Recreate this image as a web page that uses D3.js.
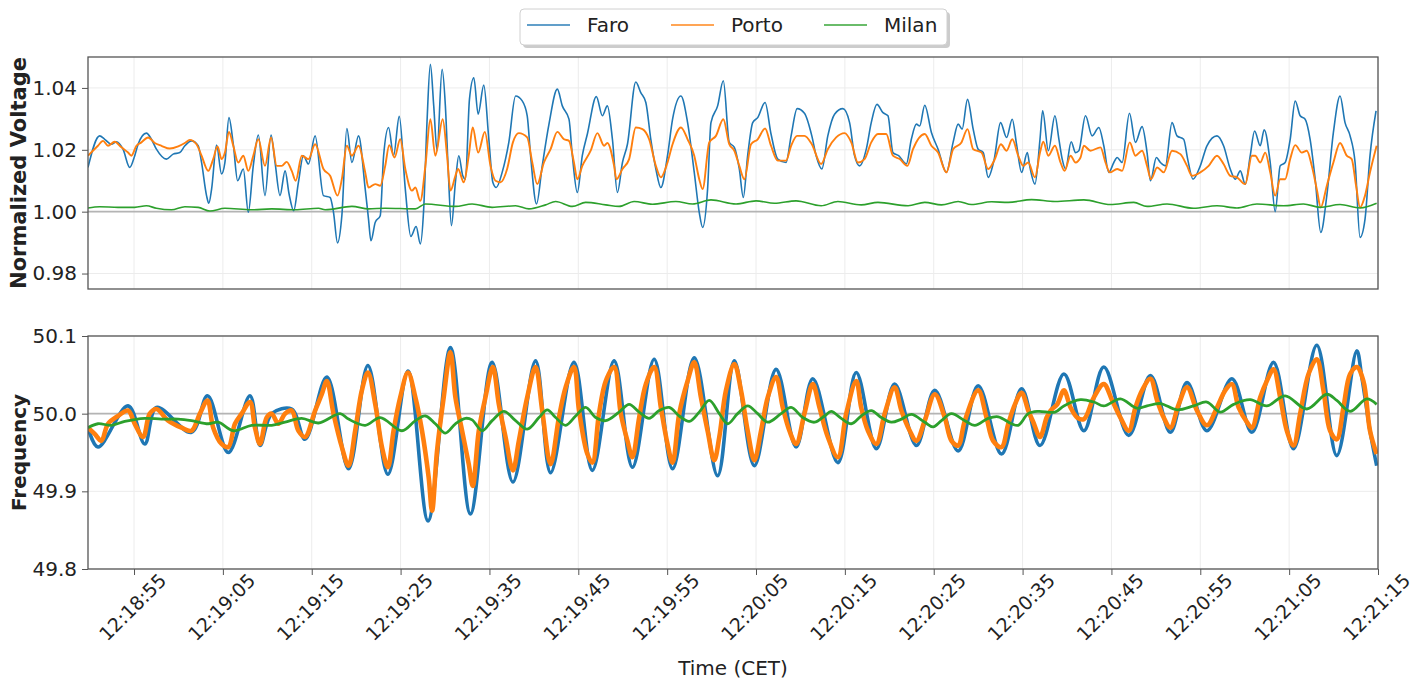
<!DOCTYPE html>
<html>
<head>
<meta charset="utf-8">
<script src="https://cdn.jsdelivr.net/npm/d3@7"></script>
<style>
body { margin: 0; background: #fff; }
svg text { font-family: "DejaVu Sans", sans-serif; fill: #222; }
</style>
</head>
<body>
<svg id="chart" width="1416" height="681"></svg>
<script>
// Time axis: seconds are counted from 12:18:55
var startTime = "12:18:55";
var timeTicks = ["12:18:55", "12:19:05", "12:19:15", "12:19:25", "12:19:35", "12:19:45", "12:19:55",
    "12:20:05", "12:20:15", "12:20:25", "12:20:35", "12:20:45", "12:20:55", "12:21:05", "12:21:15"];
var timeRange = [-5.18, 140];

var voltageTicks = [0.98, 1.00, 1.02, 1.04];
var freqTicks = [49.8, 49.9, 50.0, 50.1];

// Normalized voltage, [seconds, value]
var faroVoltage = [[-5.18,1.0143],[-3.87,1.0245],[-3.30,1.0234],[-2.55,1.0218],[-1.99,1.0226],[-1.24,1.0202],[-0.48,1.0143],[0.08,1.0181],[0.46,1.0218],[1.39,1.0254],[1.96,1.0234],[2.52,1.0202],[3.65,1.0170],[4.40,1.0186],[5.15,1.0191],[5.72,1.0213],[6.47,1.0229],[7.22,1.0213],[7.60,1.0159],[8.16,1.0052],[8.42,1.0027],[8.73,1.0073],[9.29,1.0215],[9.85,1.0122],[10.23,1.0159],[10.68,1.0304],[11.17,1.0218],[11.66,1.0100],[12.30,1.0138],[12.86,0.9998],[13.42,1.0148],[13.99,1.0248],[14.74,1.0052],[15.42,1.0248],[15.87,1.0159],[16.43,1.0052],[17.00,1.0132],[17.45,1.0057],[17.97,1.0003],[18.50,1.0095],[19.06,1.0181],[19.63,1.0154],[20.38,1.0245],[21.32,1.0052],[22.07,1.0046],[22.45,0.9998],[22.90,0.9899],[23.39,0.9987],[23.95,1.0269],[24.52,1.0159],[25.27,1.0245],[26.02,1.0073],[26.39,0.9976],[26.66,0.9906],[27.15,0.9966],[27.71,0.9987],[28.09,1.0181],[28.65,1.0272],[29.21,1.0181],[29.85,1.0308],[30.53,1.0073],[31.15,0.9920],[31.75,0.9952],[32.22,0.9896],[32.60,1.0009],[32.97,1.0288],[33.35,1.0476],[33.73,1.0342],[34.10,1.0197],[34.67,1.0460],[35.04,1.0342],[35.34,1.0148],[35.72,0.9955],[36.17,1.0095],[36.55,1.0181],[37.00,1.0116],[37.30,1.0105],[37.75,1.0363],[38.24,1.0433],[38.73,1.0315],[39.36,1.0409],[39.93,1.0234],[40.38,1.0095],[40.76,1.0078],[41.43,1.0127],[42.18,1.0224],[42.94,1.0374],[43.69,1.0358],[44.25,1.0310],[44.63,1.0181],[45.30,1.0025],[45.94,1.0148],[46.70,1.0283],[47.64,1.0396],[48.20,1.0342],[48.95,1.0299],[49.33,1.0181],[49.89,1.0062],[50.45,1.0181],[51.02,1.0251],[52.03,1.0372],[52.71,1.0310],[53.27,1.0342],[53.84,1.0234],[54.40,1.0062],[54.97,1.0159],[55.53,1.0218],[56.47,1.0419],[57.03,1.0385],[57.60,1.0353],[58.16,1.0234],[58.73,1.0138],[59.29,1.0078],[60.04,1.0181],[60.61,1.0299],[61.55,1.0374],[62.30,1.0288],[63.05,1.0127],[63.61,0.9998],[63.99,0.9949],[64.55,1.0073],[64.93,1.0288],[65.68,1.0342],[66.32,1.0423],[66.99,1.0224],[67.56,1.0208],[68.12,1.0138],[68.57,1.0046],[69.06,1.0181],[69.63,1.0288],[70.19,1.0304],[71.02,1.0353],[71.69,1.0251],[72.45,1.0170],[73.38,1.0159],[73.95,1.0245],[74.63,1.0333],[75.45,1.0318],[76.28,1.0245],[76.77,1.0181],[77.41,1.0138],[78.08,1.0245],[78.84,1.0315],[79.78,1.0333],[80.53,1.0288],[81.09,1.0181],[81.66,1.0148],[82.41,1.0202],[82.97,1.0288],[83.61,1.0347],[84.29,1.0320],[84.85,1.0310],[85.41,1.0191],[86.05,1.0181],[86.92,1.0154],[87.48,1.0234],[88.05,1.0283],[88.42,1.0277],[88.99,1.0344],[89.74,1.0256],[90.49,1.0202],[91.43,1.0127],[92.18,1.0224],[92.75,1.0283],[93.20,1.0267],[93.80,1.0363],[94.44,1.0267],[95.00,1.0202],[95.57,1.0191],[96.13,1.0111],[96.81,1.0170],[97.52,1.0288],[98.20,1.0240],[98.84,1.0299],[99.32,1.0218],[99.89,1.0127],[100.53,1.0191],[100.83,1.0143],[101.39,1.0089],[101.96,1.0234],[102.26,1.0326],[102.90,1.0197],[103.64,1.0310],[104.09,1.0234],[104.46,1.0170],[104.84,1.0138],[105.47,1.0226],[105.96,1.0191],[106.33,1.0197],[107.08,1.0310],[107.83,1.0245],[108.58,1.0272],[109.14,1.0213],[109.70,1.0127],[110.27,1.0159],[110.64,1.0175],[111.20,1.0159],[112.03,1.0318],[112.70,1.0224],[113.45,1.0275],[114.01,1.0191],[114.39,1.0100],[115.06,1.0175],[115.51,1.0159],[116.07,1.0148],[116.82,1.0288],[117.38,1.0245],[118.13,1.0234],[118.58,1.0170],[119.18,1.0105],[120.00,1.0148],[120.75,1.0213],[121.88,1.0245],[122.62,1.0213],[123.37,1.0138],[123.94,1.0105],[124.50,1.0132],[125.06,1.0089],[125.62,1.0181],[126.11,1.0261],[126.75,1.0213],[127.19,1.0265],[127.87,1.0159],[128.43,1.0000],[128.99,1.0148],[129.55,1.0159],[130.12,1.0234],[130.68,1.0358],[131.24,1.0310],[131.80,1.0299],[132.36,1.0234],[132.93,1.0105],[133.56,0.9933],[134.24,1.0052],[134.98,1.0256],[135.73,1.0374],[136.29,1.0288],[136.86,1.0245],[137.42,1.0159],[137.98,0.9917],[138.54,0.9976],[139.10,1.0181],[139.78,1.0326]];

var portoVoltage = [[-5.18,1.0181],[-4.06,1.0213],[-3.49,1.0229],[-2.93,1.0213],[-2.18,1.0226],[-1.42,1.0208],[-0.67,1.0191],[-0.30,1.0181],[0.27,1.0213],[0.83,1.0224],[1.58,1.0240],[2.33,1.0222],[3.09,1.0213],[4.03,1.0204],[4.97,1.0211],[5.72,1.0222],[6.28,1.0232],[7.03,1.0218],[7.60,1.0181],[8.35,1.0132],[8.91,1.0170],[9.40,1.0211],[9.85,1.0170],[10.23,1.0191],[10.68,1.0258],[11.17,1.0213],[11.73,1.0159],[12.30,1.0181],[12.86,1.0132],[13.42,1.0181],[13.99,1.0234],[14.74,1.0148],[15.42,1.0240],[16.06,1.0148],[16.62,1.0148],[17.18,1.0161],[17.75,1.0132],[18.20,1.0100],[18.88,1.0181],[19.63,1.0170],[20.38,1.0218],[21.32,1.0138],[22.07,1.0116],[22.90,1.0052],[23.39,1.0105],[23.95,1.0213],[24.52,1.0181],[25.27,1.0213],[26.02,1.0127],[26.39,1.0078],[27.15,1.0089],[27.71,1.0084],[28.27,1.0148],[28.72,1.0215],[29.32,1.0175],[29.96,1.0234],[30.53,1.0138],[31.28,1.0068],[31.66,1.0078],[32.22,1.0035],[32.79,1.0148],[33.35,1.0299],[33.91,1.0181],[34.74,1.0299],[35.23,1.0181],[35.61,1.0068],[36.17,1.0116],[36.47,1.0138],[37.11,1.0095],[37.67,1.0181],[38.12,1.0272],[38.73,1.0191],[39.48,1.0258],[40.12,1.0148],[40.68,1.0100],[41.24,1.0095],[41.99,1.0138],[42.64,1.0224],[43.31,1.0254],[44.25,1.0240],[44.82,1.0159],[45.38,1.0089],[46.13,1.0159],[46.88,1.0202],[47.64,1.0258],[48.39,1.0234],[48.95,1.0229],[49.51,1.0159],[49.89,1.0105],[50.45,1.0148],[51.39,1.0197],[52.15,1.0254],[52.90,1.0213],[53.27,1.0222],[54.03,1.0148],[54.29,1.0105],[54.97,1.0138],[55.72,1.0170],[56.47,1.0272],[57.22,1.0267],[57.97,1.0234],[58.73,1.0148],[59.29,1.0111],[60.04,1.0159],[60.61,1.0218],[61.55,1.0272],[62.30,1.0234],[63.05,1.0181],[63.61,1.0105],[63.99,1.0073],[64.74,1.0224],[65.49,1.0245],[66.32,1.0299],[66.99,1.0218],[67.56,1.0197],[68.12,1.0148],[68.69,1.0105],[69.44,1.0218],[70.19,1.0234],[71.02,1.0269],[71.69,1.0213],[72.45,1.0165],[73.38,1.0165],[73.95,1.0213],[74.63,1.0245],[75.45,1.0245],[76.28,1.0218],[77.33,1.0154],[78.08,1.0202],[79.02,1.0240],[79.96,1.0254],[80.72,1.0224],[81.47,1.0159],[82.22,1.0170],[82.97,1.0224],[83.72,1.0251],[84.66,1.0251],[85.41,1.0181],[86.17,1.0170],[87.03,1.0148],[87.67,1.0202],[88.99,1.0251],[89.74,1.0213],[90.49,1.0191],[91.43,1.0127],[92.18,1.0202],[93.12,1.0224],[93.80,1.0267],[94.44,1.0202],[95.38,1.0191],[96.13,1.0138],[96.88,1.0170],[97.56,1.0218],[98.20,1.0197],[98.84,1.0234],[99.51,1.0181],[100.08,1.0148],[100.64,1.0159],[101.39,1.0111],[101.96,1.0191],[102.33,1.0226],[102.90,1.0181],[103.64,1.0213],[104.27,1.0159],[104.72,1.0132],[105.40,1.0181],[105.96,1.0159],[106.52,1.0175],[106.90,1.0213],[107.64,1.0197],[108.77,1.0208],[109.33,1.0159],[109.82,1.0127],[110.64,1.0138],[111.20,1.0132],[112.06,1.0224],[112.70,1.0181],[113.45,1.0197],[114.01,1.0148],[114.46,1.0105],[115.14,1.0143],[115.88,1.0127],[116.82,1.0197],[117.76,1.0186],[118.51,1.0148],[119.07,1.0116],[120.00,1.0127],[120.94,1.0148],[121.88,1.0181],[122.62,1.0154],[123.37,1.0116],[124.12,1.0111],[125.06,1.0089],[125.81,1.0181],[126.18,1.0181],[126.75,1.0159],[127.31,1.0191],[127.87,1.0127],[128.43,1.0052],[128.99,1.0105],[129.55,1.0105],[130.12,1.0170],[130.68,1.0215],[131.43,1.0191],[131.99,1.0197],[132.55,1.0148],[133.11,1.0073],[133.56,1.0014],[134.24,1.0084],[134.98,1.0159],[135.73,1.0222],[136.48,1.0181],[137.04,1.0170],[137.53,1.0084],[137.98,1.0014],[138.54,1.0052],[139.10,1.0127],[139.85,1.0213]];

var milanVoltage = [[-5.18,1.0012],[-3.87,1.0016],[-1.80,1.0014],[0.08,1.0014],[1.39,1.0019],[2.52,1.0011],[4.21,1.0006],[5.72,1.0016],[7.22,1.0014],[8.54,1.0002],[10.23,1.0011],[13.24,1.0006],[15.49,1.0009],[18.12,1.0006],[20.76,1.0011],[21.51,1.0006],[24.52,1.0017],[26.39,1.0009],[28.27,1.0011],[31.66,1.0009],[32.79,1.0025],[36.17,1.0017],[38.05,1.0025],[40.30,1.0014],[42.94,1.0019],[44.44,1.0009],[46.32,1.0022],[47.45,1.0033],[49.33,1.0017],[50.83,1.0030],[53.09,1.0022],[54.59,1.0017],[56.28,1.0033],[58.35,1.0024],[60.98,1.0033],[62.86,1.0025],[64.93,1.0038],[67.75,1.0025],[70.00,1.0035],[72.07,1.0027],[74.51,1.0035],[77.33,1.0019],[79.21,1.0033],[81.84,1.0022],[83.72,1.0030],[87.11,1.0019],[88.99,1.0030],[90.87,1.0022],[92.75,1.0033],[94.25,1.0023],[96.51,1.0032],[98.39,1.0030],[101.02,1.0039],[103.65,1.0033],[106.90,1.0038],[109.89,1.0023],[112.51,1.0030],[114.01,1.0017],[116.26,1.0025],[119.25,1.0011],[121.88,1.0019],[124.12,1.0012],[126.37,1.0025],[129.37,1.0019],[131.61,1.0025],[133.49,1.0014],[135.73,1.0023],[137.98,1.0012],[139.85,1.0027]];

// Frequency in Hz, [seconds, value]
var faroFreq = [[-5.18,49.982],[-4.06,49.957],[-0.67,50.010],[1.21,49.961],[2.52,50.008],[6.47,49.976],[8.27,50.023],[10.61,49.950],[13.05,50.023],[14.18,49.959],[15.49,50.000],[17.75,50.006],[19.25,49.967],[21.70,50.047],[24.14,49.929],[26.32,50.062],[28.57,49.922],[30.83,50.055],[33.09,49.862],[35.61,50.085],[37.86,49.871],[40.30,50.066],[42.64,49.912],[45.19,50.068],[46.88,49.924],[49.51,50.066],[51.58,49.927],[54.03,50.068],[56.09,49.931],[58.54,50.070],[60.61,49.929],[63.05,50.072],[65.68,49.920],[67.56,50.068],[69.81,49.933],[72.26,50.057],[74.51,49.957],[76.39,50.045],[79.21,49.937],[81.28,50.053],[83.54,49.955],[85.60,50.038],[88.05,49.959],[90.12,50.030],[92.75,49.952],[95.00,50.036],[97.63,49.948],[99.89,50.032],[101.96,49.959],[104.65,50.051],[106.90,49.978],[109.14,50.060],[111.95,49.972],[114.39,50.049],[116.63,49.976],[118.51,50.040],[120.75,49.978],[123.56,50.045],[125.81,49.976],[128.24,50.066],[130.49,49.955],[133.11,50.088],[135.36,49.946],[137.61,50.081],[138.18,50.047],[139.10,49.978],[139.85,49.933]];

var portoFreq = [[-5.18,49.982],[-4.43,49.974],[-3.68,49.965],[-2.93,49.987],[-1.80,49.997],[-0.67,50.004],[0.08,49.987],[1.02,49.970],[1.77,50.000],[2.52,50.006],[3.84,49.991],[5.34,49.982],[6.47,49.978],[7.41,50.000],[8.27,50.017],[8.91,49.982],[9.85,49.961],[10.61,49.957],[11.36,49.987],[12.11,50.000],[13.05,50.015],[13.61,49.982],[14.18,49.961],[14.93,49.995],[15.49,50.000],[16.24,49.987],[16.99,50.000],[17.75,50.004],[18.50,49.978],[19.25,49.970],[20.38,50.004],[21.13,50.025],[21.70,50.042],[22.45,50.000],[23.39,49.957],[24.14,49.933],[24.89,49.978],[25.64,50.030],[26.32,50.053],[27.15,50.012],[27.90,49.957],[28.57,49.931],[29.21,49.978],[29.96,50.021],[30.83,50.053],[31.66,50.021],[32.41,49.978],[33.16,49.918],[33.54,49.875],[34.10,49.952],[34.85,50.021],[35.61,50.079],[36.17,50.021],[36.92,49.978],[37.67,49.935],[38.12,49.907],[38.80,49.978],[39.55,50.021],[40.38,50.060],[41.06,50.012],[41.81,49.970],[42.64,49.927],[43.31,49.965],[44.25,50.021],[45.19,50.060],[45.94,50.004],[46.88,49.935],[47.82,49.995],[48.58,50.034],[49.51,50.060],[50.08,50.004],[51.02,49.948],[51.58,49.937],[52.33,50.000],[53.09,50.042],[54.03,50.060],[54.78,50.000],[55.53,49.965],[56.09,49.944],[56.85,49.995],[57.60,50.038],[58.54,50.060],[59.29,50.008],[60.04,49.961],[60.61,49.937],[61.36,50.000],[62.30,50.042],[63.05,50.066],[63.80,50.021],[64.55,49.978],[65.30,49.940],[65.87,49.970],[66.62,50.030],[67.56,50.064],[68.31,50.030],[69.06,49.978],[69.81,49.940],[70.57,49.978],[71.32,50.021],[72.26,50.047],[73.01,50.008],[73.76,49.978],[74.51,49.961],[75.45,50.000],[76.39,50.038],[77.14,50.008],[78.08,49.970],[79.21,49.944],[80.15,50.000],[81.28,50.042],[81.84,50.008],[82.60,49.978],[83.54,49.961],[84.48,50.000],[85.60,50.034],[86.36,50.004],[87.30,49.978],[88.05,49.965],[88.99,49.991],[90.12,50.025],[91.24,49.995],[92.00,49.965],[92.75,49.959],[93.50,49.991],[95.00,50.030],[95.94,49.995],[96.69,49.965],[97.63,49.957],[98.39,49.987],[99.14,50.012],[99.89,50.027],[100.64,50.004],[101.21,49.989],[101.96,49.970],[102.71,49.995],[103.15,50.004],[103.90,50.012],[104.65,50.030],[105.40,50.008],[106.15,49.995],[106.90,49.993],[108.02,50.021],[109.14,50.038],[110.08,50.017],[111.01,49.995],[111.95,49.978],[112.70,50.008],[113.45,50.030],[114.39,50.045],[115.14,50.017],[115.88,49.995],[116.63,49.982],[117.57,50.012],[118.51,50.034],[119.63,50.004],[120.75,49.985],[121.88,50.008],[122.81,50.030],[123.56,50.038],[124.31,50.008],[125.25,49.989],[125.81,49.982],[126.75,50.021],[127.49,50.042],[128.24,50.057],[128.99,50.021],[129.74,49.978],[130.49,49.959],[131.24,50.000],[132.18,50.051],[133.11,50.070],[133.86,50.030],[134.61,49.978],[135.36,49.967],[136.11,50.008],[136.86,50.051],[137.61,50.060],[138.36,50.042],[139.10,49.978],[139.85,49.948]];

var milanFreq = [[-5.18,49.982],[-4.06,49.987],[-2.55,49.985],[-1.05,49.990],[1.21,49.994],[3.09,49.993],[4.97,49.993],[6.47,49.991],[8.35,49.987],[9.47,49.989],[11.17,49.978],[13.24,49.985],[15.49,49.985],[16.99,49.989],[18.88,49.994],[20.76,49.988],[23.20,50.000],[24.14,49.993],[26.02,49.985],[27.71,49.995],[30.15,49.978],[31.66,49.991],[32.79,49.997],[33.91,49.987],[35.04,49.975],[36.17,49.987],[37.30,49.994],[38.05,49.992],[39.18,49.978],[40.30,49.991],[41.62,50.003],[42.94,49.991],[44.25,49.980],[45.57,49.995],[46.51,50.005],[47.45,49.995],[48.58,49.985],[49.70,49.997],[50.83,50.008],[51.96,49.995],[53.09,49.991],[54.59,50.002],[55.72,50.012],[56.85,50.002],[57.97,49.994],[59.10,50.004],[60.23,50.008],[61.36,49.997],[62.49,49.990],[63.61,50.002],[64.74,50.017],[65.87,50.000],[66.81,49.987],[67.93,50.000],[69.06,50.010],[70.19,50.000],[71.32,49.989],[72.82,50.000],[73.95,50.008],[75.26,49.995],[76.58,49.989],[77.71,49.997],[78.46,50.003],[79.59,49.994],[80.72,49.987],[81.84,49.997],[82.97,50.004],[84.10,49.995],[85.23,49.989],[86.36,49.993],[87.48,49.999],[88.99,49.989],[89.93,49.983],[90.87,49.991],[91.99,50.000],[93.50,49.991],[94.63,49.985],[96.13,49.994],[97.26,49.996],[98.76,49.987],[99.51,49.985],[100.64,50.000],[101.77,50.003],[103.65,50.002],[104.65,50.010],[106.52,50.018],[108.02,50.015],[109.14,50.010],[111.01,50.019],[112.89,50.007],[114.01,50.010],[115.51,50.013],[117.38,50.005],[119.25,50.010],[120.75,50.015],[122.25,50.002],[123.75,50.012],[125.62,50.018],[127.49,50.010],[129.55,50.023],[131.99,50.006],[134.24,50.025],[135.36,50.017],[136.86,50.003],[138.73,50.019],[139.85,50.012]];

var seriesNames = ["Faro", "Porto", "Milan"];
var seriesColors = ["#1f77b4", "#ff7f0e", "#2ca02c"];

var svg = d3.select("#chart");
var parseTime = d3.timeParse("%H:%M:%S");
var base = parseTime(startTime);
function toDate(s) {
    return new Date(base.getTime() + s * 1000);
}

var plotLeft = 88, plotRight = 1378;
var x = d3.scaleTime()
    .domain(timeRange.map(toDate))
    .range([plotLeft, plotRight]);
var tickDates = timeTicks.map(parseTime);

var panels = [
    { top: 57, bottom: 289, domain: [0.975, 1.05], ticks: voltageTicks, fmt: d3.format(".2f"), ref: 1.0,
      label: "Normalized Voltage", labelSize: 21, series: [faroVoltage, portoVoltage, milanVoltage], widths: [1.6, 1.9, 1.6] },
    { top: 336, bottom: 569, domain: [49.8, 50.1], ticks: freqTicks, fmt: d3.format(".1f"), ref: 50.0,
      label: "Frequency", labelSize: 20, series: [faroFreq, portoFreq, milanFreq], widths: [3.6, 4.6, 2.8] }
];

panels.forEach(function (p, pi) {
    var y = d3.scaleLinear().domain(p.domain).range([p.bottom, p.top]);
    var g = svg.append("g");

    g.append("clipPath").attr("id", "clip" + pi)
        .append("rect")
        .attr("x", plotLeft).attr("y", p.top)
        .attr("width", plotRight - plotLeft).attr("height", p.bottom - p.top);

    // grid
    g.selectAll(".vgrid").data(tickDates).enter().append("line")
        .attr("x1", function (d) { return x(d); })
        .attr("x2", function (d) { return x(d); })
        .attr("y1", p.top).attr("y2", p.bottom)
        .attr("stroke", "#ececec").attr("stroke-width", 1);
    g.selectAll(".hgrid").data(p.ticks).enter().append("line")
        .attr("x1", plotLeft).attr("x2", plotRight)
        .attr("y1", function (d) { return y(d); })
        .attr("y2", function (d) { return y(d); })
        .attr("stroke", "#ececec").attr("stroke-width", 1);

    // reference line
    g.append("line")
        .attr("x1", plotLeft).attr("x2", plotRight)
        .attr("y1", y(p.ref)).attr("y2", y(p.ref))
        .attr("stroke", "#b4b4b4").attr("stroke-width", 1.6);

    var line = d3.line()
        .x(function (d) { return x(toDate(d[0])); })
        .y(function (d) { return y(d[1]); })
        .curve(pi === 0 ? d3.curveMonotoneX : d3.curveCatmullRom.alpha(0.5));

    p.series.forEach(function (data, i) {
        g.append("path")
            .datum(data)
            .attr("clip-path", "url(#clip" + pi + ")")
            .attr("fill", "none")
            .attr("stroke", seriesColors[i])
            .attr("stroke-width", p.widths[i])
            .attr("stroke-linejoin", "round")
            .attr("d", line);
    });

    // frame
    g.append("rect")
        .attr("x", plotLeft).attr("y", p.top)
        .attr("width", plotRight - plotLeft).attr("height", p.bottom - p.top)
        .attr("fill", "none").attr("stroke", "#555").attr("stroke-width", 1.3);

    // y axis
    var yAxis = g.append("g")
        .attr("transform", "translate(" + plotLeft + ",0)")
        .call(d3.axisLeft(y).tickValues(p.ticks).tickFormat(p.fmt).tickSize(6).tickPadding(5));
    yAxis.select(".domain").remove();
    yAxis.selectAll("line").attr("stroke", "#555");
    yAxis.selectAll("text").attr("font-size", "20px").attr("font-family", "DejaVu Sans").attr("fill", "#222");

    g.append("text")
        .attr("transform", "translate(19," + ((p.top + p.bottom) / 2) + ") rotate(-90)")
        .attr("text-anchor", "middle")
        .attr("dominant-baseline", "central")
        .attr("font-size", p.labelSize + "px")
        .attr("font-weight", "bold")
        .text(p.label);

    // x axis only under the lower panel
    if (pi === 1) {
        var xAxis = g.append("g")
            .attr("transform", "translate(0," + p.bottom + ")")
            .call(d3.axisBottom(x).tickValues(tickDates).tickFormat(d3.timeFormat("%H:%M:%S")).tickSize(6));
        xAxis.select(".domain").remove();
        xAxis.selectAll("line").attr("stroke", "#555");
        xAxis.selectAll("text")
            .attr("y", 0).attr("dy", null)
            .attr("text-anchor", "middle")
            .attr("dominant-baseline", "central")
            .attr("transform", "translate(-2,38) rotate(-45)")
            .attr("font-size", "19px").attr("font-family", "DejaVu Sans").attr("fill", "#222");

        g.append("text")
            .attr("x", (plotLeft + plotRight) / 2)
            .attr("y", 675)
            .attr("text-anchor", "middle")
            .attr("font-size", "20px")
            .text("Time (CET)");
    }
});

// legend
var legend = svg.append("g").attr("transform", "translate(520,9)");
legend.append("rect")
    .attr("x", 3).attr("y", 3).attr("width", 427).attr("height", 36).attr("rx", 4)
    .attr("fill", "#999").attr("opacity", 0.5);
legend.append("rect")
    .attr("width", 427).attr("height", 36).attr("rx", 4)
    .attr("fill", "#fff").attr("stroke", "#d0d0d0");
var legendX = [7, 151, 304];
seriesNames.forEach(function (name, i) {
    legend.append("line")
        .attr("x1", legendX[i]).attr("x2", legendX[i] + 43)
        .attr("y1", 16).attr("y2", 16)
        .attr("stroke", seriesColors[i]).attr("stroke-width", 2).attr("opacity", 0.7);
    legend.append("text")
        .attr("x", legendX[i] + 60).attr("y", 16)
        .attr("dominant-baseline", "central")
        .attr("font-size", "20px")
        .text(name);
});
</script>
</body>
</html>
